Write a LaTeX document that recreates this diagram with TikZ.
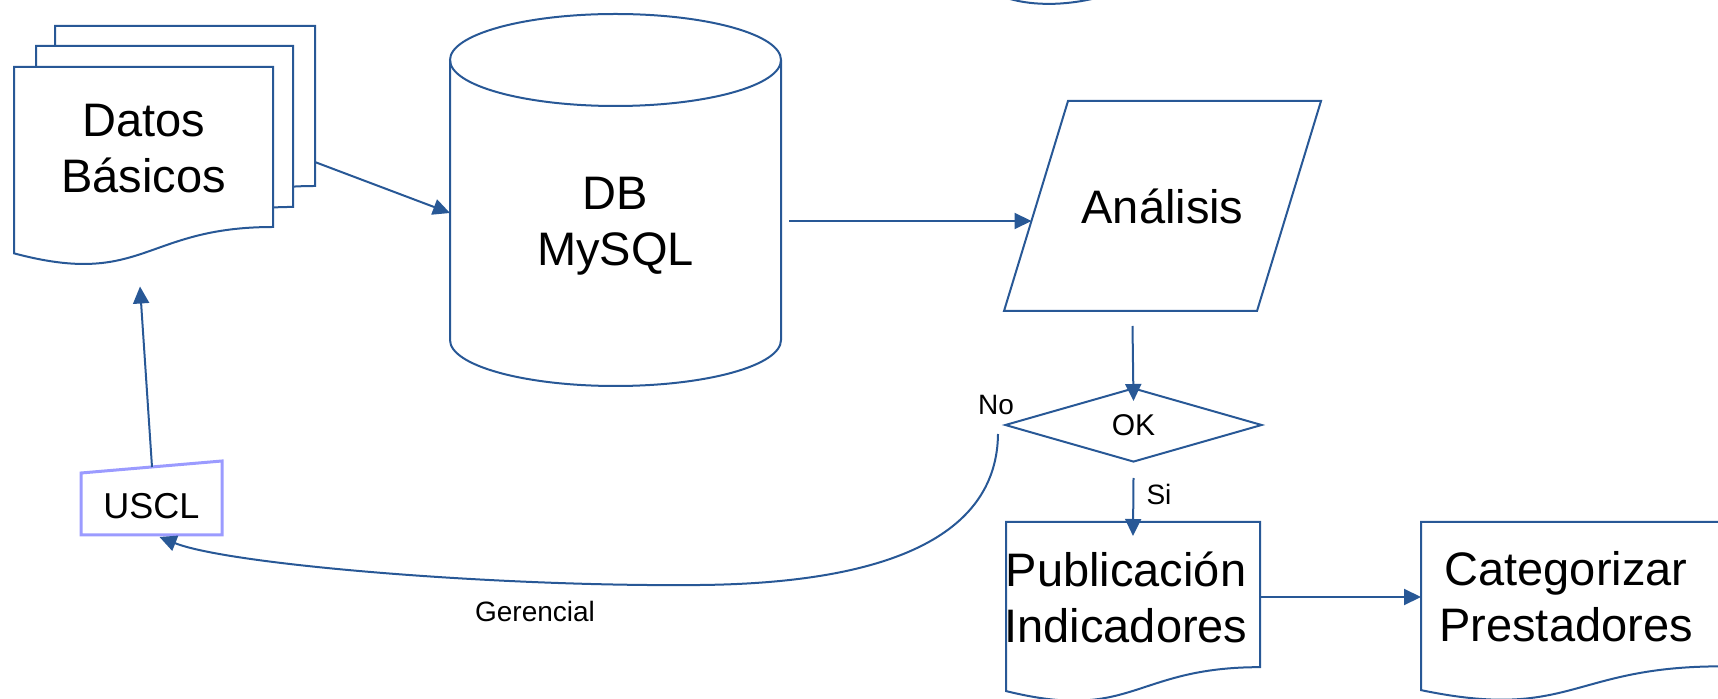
\documentclass[tikz,border=0pt]{standalone}
\usepackage{fontspec}
\setmainfont{Liberation Sans}
\usetikzlibrary{arrows.meta,calc,shapes.geometric,backgrounds}
\definecolor{lc}{RGB}{40,88,150}
\definecolor{lav}{RGB}{155,155,255}
\newcommand\mydoc[1]{\filldraw[ln,fill=white] (#1.north west) -- (#1.north east) -- ($(#1.north east)!0.802!(#1.south east)$) .. controls ($(#1.north)!0.802!(#1.south)$) and ($(#1.north)!1.1075!(#1.south)$) .. ($(#1.north west)!0.934!(#1.south west)$) -- cycle;}
\begin{document}
\begin{tikzpicture}[x=0.5pt,y=-0.5pt,
 ln/.style={draw=lc,line width=1pt},
 arr/.style={ln,-{Triangle[length=8.5pt,width=8pt]}},
 big/.style={font=\fontsize{23.5}{28}\selectfont,align=center,text=black},
 small/.style={font=\fontsize{14}{17}\selectfont,text=black},
 docbox/.style={inner sep=0pt,outer sep=0pt,draw=none,rectangle},
]
\useasboundingbox (0,0) rectangle (1718,699);

% stacked documents
\node[docbox,minimum width=130pt,minimum height=99.75pt] (back) at (185,125.75) {};
\node[docbox,minimum width=128.5pt,minimum height=100.35pt] (mid) at (164.5,146.35) {};
\node[docbox,minimum width=129.5pt,minimum height=99.75pt,
      label={[big,yshift=9pt]center:{Datos\\Básicos}}] (datos) at (143.5,166.75) {};

% database
\node[docbox,minimum width=165.5pt,minimum height=186pt,
      label={[big,yshift=-13pt]center:{DB\\MySQL}}] (db) at (615.5,200) {};
\draw[ln] (615.5,60) ellipse [x radius=165.5,y radius=46];
\draw[ln] (450,60) -- (450,340) arc[start angle=180,end angle=0,x radius=165.5,y radius=46] -- (781,60);

% analysis (parallelogram)
\node[docbox,minimum width=158.5pt,minimum height=105pt,big] (ana) at (1162.5,206) {Análisis};
\draw[ln] (ana.south west) -- ($(ana.north west)+(64,0)$) -- (ana.north east) -- ($(ana.south east)+(-64,0)$) -- cycle;
\coordinate (anaIn) at (1031.5,221);

% decision
\node[diamond,ln,inner sep=0pt,minimum width=128.5pt,minimum height=37pt,
      font=\fontsize{15}{18}\selectfont] (ok) at (1133.5,425) {OK};

% output documents
\node[docbox,minimum width=127pt,minimum height=90.5pt,
      label={[big,yshift=7.5pt,xshift=-3.5pt]center:{Publicación\\Indicadores}}] (pub) at (1133,612.5) {};
\node[docbox,minimum width=150pt,minimum height=90pt,
      label={[big,yshift=7.5pt,xshift=-2.5pt]center:{Categorizar\\Prestadores}}] (cat) at (1571,612) {};

% manual input
\node[docbox,minimum width=70.5pt,minimum height=37pt,
      label={[font=\fontsize{18}{21}\selectfont,yshift=-4pt]center:USCL}] (uscl) at (151.5,498) {};
\draw[draw=lav,line width=1.5pt] (uscl.south west) -- ($(uscl.north west)+(0,12)$) -- (uscl.north east) -- (uscl.south east) -- cycle;

% labels
\node[small] (no) at (996,405) {No};
\node[small] (si) at (1159,494) {Si};
\node[small] (ger) at (535,611) {Gerencial};

% partial shape at top
\draw[ln] (1010,-1) .. controls (1035,6) and (1065,5) .. (1092,-1);

% connectors
\draw[arr] ($(back.north east)!0.682!(back.south east)$) -- ($(db.west)+(0,13)$);
\draw[arr] ($(db.east)+(8,21)$) -- (anaIn);
\draw[arr] ($(ok.north)+(-1,-61)$) -- ($(ok.north)+(0,14)$);
\draw[arr] ($(ok.south)+(0,15)$) -- ($(pub.north)+(0,14)$);
\coordinate (p1) at ($(pub.east)+(0,-15.5)$);
\draw[arr] (p1) -- (p1 -| cat.west);
\draw[arr] ($(uscl.north)+(0.5,6)$) -- ($(datos.south)+(-3.5,20)$);
\draw[arr] ($(ok.west)+(-6,9)$) .. controls (997,530) and (900,583) .. (700,585) .. controls (500,587) and (230,565) .. ($(uscl.south)+(8,2)$);

\begin{scope}[on background layer]
\mydoc{back}
\mydoc{mid}
\mydoc{datos}
\mydoc{pub}
\mydoc{cat}
\end{scope}
\end{tikzpicture}
\end{document}
